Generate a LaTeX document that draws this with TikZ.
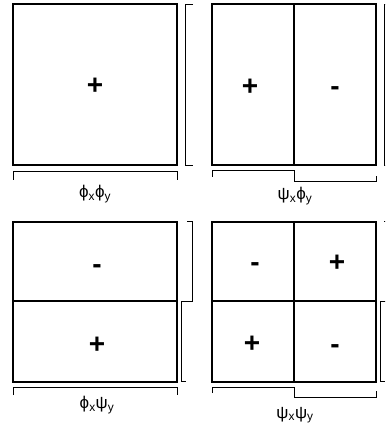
\documentclass[tikz,border=0pt]{standalone}
\usepackage{fontspec}
\setmainfont{Liberation Sans}
\usetikzlibrary{positioning}

\tikzset{
  cell/.style={line width=1.3pt, line join=miter},
  wave/.style={line width=0.8pt, line join=miter},
  sign/.style={font=\fontsize{28}{28}\selectfont\bfseries, inner sep=0pt},
  minus/.style={sign, yshift=-4pt},
  fnlabel/.style={font=\fontsize{17}{19}\selectfont, inner sep=0pt}
}

\begin{document}
\begin{tikzpicture}[x=1pt, y=-1pt]
		\useasboundingbox (0,0) rectangle (385,430);
		\clip (0,0) rectangle (385,430);
		
		% Cells
		\draw[cell] (13,4) rectangle (177,165);
		\draw[cell] (212,4) rectangle (376,165);
		\draw[cell] (294,4) -- (294,165);
		\draw[cell] (13,222) rectangle (177,382);
		\draw[cell] (13,301) -- (177,301);
		\draw[cell] (212,222) rectangle (376,382);
		\draw[cell] (294,222) -- (294,382);
		\draw[cell] (212,301) -- (376,301);
		
		% Signs
		\node[sign] (s1) at (95,86) {+};
		\node[sign] (s2a) at (250,87) {+};
		\node[minus] (s2b) at (335,87) {-};
		\node[minus] (s3a) at (97,265) {-};
		\node[sign] (s3b) at (97,345) {+};
		\node[minus] (s4a) at (255,263) {-};
		\node[sign] (s4b) at (337,263) {+};
		\node[sign] (s4c) at (252,344) {+};
		\node[minus] (s4d) at (335,345) {-};
		
		% Profiles along x (below) and y (right)
		\draw[wave] (13,180) -- (13,171) -- (177,171) -- (177,180);
		\draw[wave] (193,4) -- (185,4) -- (185,165) -- (193,165);
		\draw[wave] (212,177) -- (212,170) -- (294,170) -- (294,181) -- (376,181) -- (376,176);
		\draw[wave] (392,4) -- (384,4) -- (384,165) -- (392,165);
		\draw[wave] (13,395) -- (13,387) -- (177,387) -- (177,395);
		\draw[wave] (187,221) -- (192,221) -- (192,301) -- (181,301) -- (181,381) -- (186,381);
		\draw[wave] (212,393) -- (212,387) -- (294,387) -- (294,397) -- (376,397) -- (376,391);
		\draw[wave] (384,221) -- (389,221) -- (389,301) -- (380,301) -- (380,381) -- (385,381);
		
		% Labels
		\node[fnlabel] (l1) at (95,194) {ϕ\textsubscript{x}ϕ\textsubscript{y}};
		\node[fnlabel] (l2) at (295,196) {ψ\textsubscript{x}ϕ\textsubscript{y}};
		\node[fnlabel] (l3) at (97,405) {ϕ\textsubscript{x}ψ\textsubscript{y}};
		\node[fnlabel] (l4) at (295,415) {ψ\textsubscript{x}ψ\textsubscript{y}};
	\end{tikzpicture}
\end{document}
